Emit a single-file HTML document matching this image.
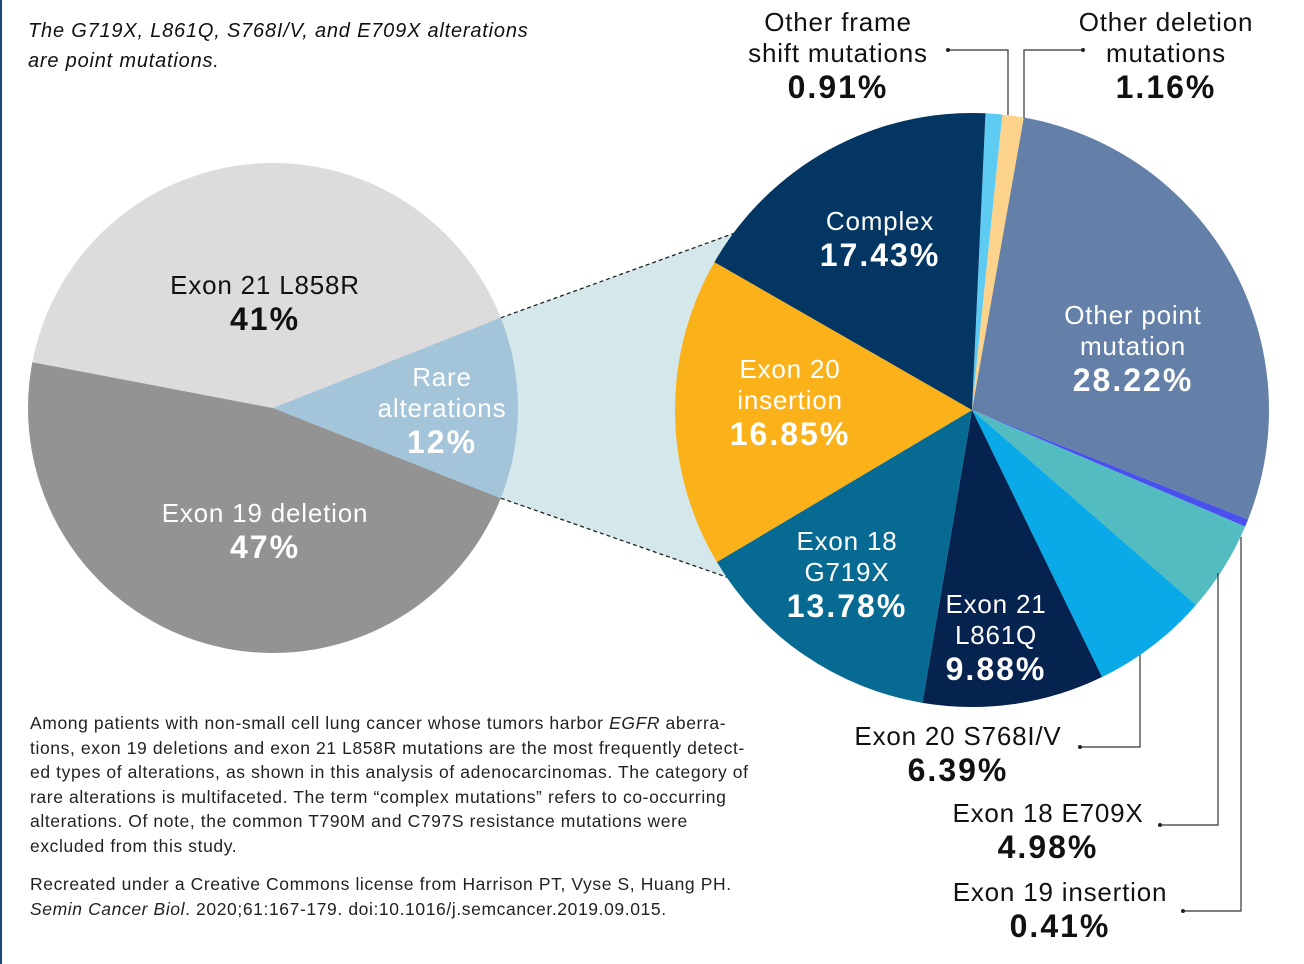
<!DOCTYPE html>
<html><head><meta charset="utf-8">
<style>
html,body{margin:0;padding:0;background:#fff;}
body{width:1304px;height:964px;overflow:hidden;position:relative;font-family:"Liberation Sans",sans-serif;}
#border{position:absolute;left:0;top:0;width:2px;height:964px;background:#1b4a7a;}
.note{position:absolute;left:28px;top:16px;font-size:20px;font-style:italic;line-height:30px;color:#111;letter-spacing:0.8px;white-space:nowrap;}
.body{position:absolute;left:30px;top:711px;font-size:17.5px;line-height:24.5px;color:#222;letter-spacing:0.6px;white-space:nowrap;}
.cite{position:absolute;left:30px;top:872px;font-size:17.5px;line-height:24.5px;color:#222;letter-spacing:0.6px;white-space:nowrap;}
svg{position:absolute;left:0;top:0;}
</style></head>
<body>
<div id="border"></div>
<div class="note">The G719X, L861Q, S768I/V, and E709X alterations<br>are point mutations.</div>
<div class="body">Among patients with non-small cell lung cancer whose tumors harbor <i>EGFR</i> aberra-<br>tions, exon 19 deletions and exon 21 L858R mutations are the most frequently detect-<br>ed types of alterations, as shown in this analysis of adenocarcinomas. The category of<br>rare alterations is multifaceted. The term “complex mutations” refers to co-occurring<br>alterations. Of note, the common T790M and C797S resistance mutations were<br>excluded from this study.</div>
<div class="cite">Recreated under a Creative Commons license from Harrison PT, Vyse S, Huang PH.<br><i>Semin Cancer Biol</i>. 2020;61:167-179. doi:10.1016/j.semcancer.2019.09.015.</div>
<svg id="chart" width="1304" height="964"></svg>
<script>
const mainCats = ["Rare alterations","Exon 19 deletion","Exon 21 L858R"];
const mainVals = [12,47,41];
const mainColors = ["#a3c4d9","#939393","#dcdcdd"];
const rareCats = ["Other frame shift mutations","Other deletion mutations","Other point mutation","Exon 19 insertion","Exon 18 E709X","Exon 20 S768I/V","Exon 21 L861Q","Exon 18 G719X","Exon 20 insertion","Complex"];
const rareVals = [0.91,1.16,28.22,0.41,4.98,6.39,9.88,13.78,16.85,17.43];
const rareColors = ["#5ecbf3","#fdd38b","#6480a8","#4a50ee","#53bcc0","#0aa9e8","#06224f","#076a92","#fbb21a","#043663"];

const NS="http://www.w3.org/2000/svg";
const svg=document.getElementById('chart');
function mk(tag,attrs){const e=document.createElementNS(NS,tag);for(const k in attrs)e.setAttribute(k,attrs[k]);svg.appendChild(e);return e;}
function pt(cx,cy,r,a){const t=a*Math.PI/180;return [cx+r*Math.sin(t),cy-r*Math.cos(t)];}
function arc(cx,cy,r,a0,a1){const p0=pt(cx,cy,r,a0),p1=pt(cx,cy,r,a1);const large=(a1-a0)>180?1:0;
 return `M${cx},${cy}L${p0[0]},${p0[1]}A${r},${r} 0 ${large} 1 ${p1[0]},${p1[1]}Z`;}

const LCX=273,LCY=408,LR=245;
const mTot=mainVals.reduce((a,b)=>a+b,0);
let a=90-mainVals[0]/mTot*180;
const mainAngles=[];
mainVals.forEach((v,i)=>{const s=a,e=a+v/mTot*360;mainAngles.push([s,e]);
 const p=mk('path',{d:arc(LCX,LCY,LR,s,e),fill:mainColors[i]});
 
 
 a=e;});

const RCX=972,RCY=410,RR=297;
const rA0=mainAngles[0][0],rA1=mainAngles[0][1];
const pa=pt(LCX,LCY,LR,rA0),pb=pt(LCX,LCY,LR,rA1);
const qa=[735,233],qb=[735,580];
const trap=mk('path',{d:`M${pa[0]},${pa[1]}L${qa[0]},${qa[1]}L${qb[0]},${qb[1]}L${pb[0]},${pb[1]}Z`,fill:"#d4e8ec"});


const rs=mk('path',{d:arc(LCX,LCY,LR,rA0,rA1),fill:mainColors[0]});


[[pa,qa],[pb,qb]].forEach((l,i)=>{const d=mk('line',{x1:l[0][0],y1:l[0][1],x2:l[1][0],y2:l[1][1],stroke:"#222","stroke-width":1.3,"stroke-dasharray":"4,3"});
 
 });

const rTot=rareVals.reduce((x,y)=>x+y,0);
let b=2.6;
rareVals.forEach((v,i)=>{const s=b,e=b+v/rTot*360;
 const p=mk('path',{d:arc(RCX,RCY,RR,s,e),fill:rareColors[i]});
 
 
 b=e;});

function txt(x,y,lines,color,name){
 const t=mk('text',{x:x,y:y,fill:color,"text-anchor":"middle","font-family":"Liberation Sans, sans-serif","letter-spacing":"0.8"});
 
 
 let dy=0;
 lines.forEach((l,i)=>{const s=document.createElementNS(NS,'tspan');s.setAttribute('x',x);s.setAttribute('y',y+dy);
  s.setAttribute('font-size',l[1]?32:26);if(l[1]){s.setAttribute('font-weight','bold');s.setAttribute('letter-spacing','2');}
  s.textContent=l[0];t.appendChild(s);dy+=(lines[i+1]&&lines[i+1][1])?36:31;});
}
txt(265,294,[["Exon 21 L858R"],["41%",1]],"#111","label-l858r");
txt(265,522,[["Exon 19 deletion"],["47%",1]],"#fff","label-exon19-deletion");
txt(442,386,[["Rare"],["alterations"],["12%",1]],"#fff","label-rare");
txt(880,230,[["Complex"],["17.43%",1]],"#fff","label-complex");
txt(790,378,[["Exon 20"],["insertion"],["16.85%",1]],"#fff","label-exon20-insertion");
txt(1133,324,[["Other point"],["mutation"],["28.22%",1]],"#fff","label-other-point");
txt(847,550,[["Exon 18"],["G719X"],["13.78%",1]],"#fff","label-g719x");
txt(996,613,[["Exon 21"],["L861Q"],["9.88%",1]],"#fff","label-l861q");
txt(838,31,[["Other frame"],["shift mutations"],["0.91%",1]],"#111","label-frame-shift");
txt(1166,31,[["Other deletion"],["mutations"],["1.16%",1]],"#111","label-other-deletion");
txt(958,745,[["Exon 20 S768I/V"],["6.39%",1]],"#111","label-s768i");
txt(1048,822,[["Exon 18 E709X"],["4.98%",1]],"#111","label-e709x");
txt(1060,901,[["Exon 19 insertion"],["0.41%",1]],"#111","label-exon19-insertion");

const leaders=[[[1008,115],[1008,50],[948,50]],[[1024,118],[1024,50],[1083,50]],
 [[1140,655],[1140,747],[1080,747]],[[1218,573],[1218,825],[1160,825]],[[1241,537],[1241,911],[1183,911]]];
leaders.forEach(l=>{const pl=mk('polyline',{points:l.map(p=>p.join(',')).join(' '),fill:"none",stroke:"#333","stroke-width":1.2});
 
 
 const c=mk('circle',{cx:l[2][0],cy:l[2][1],r:2,fill:"#222"});
 
 });
</script>
</body></html>
